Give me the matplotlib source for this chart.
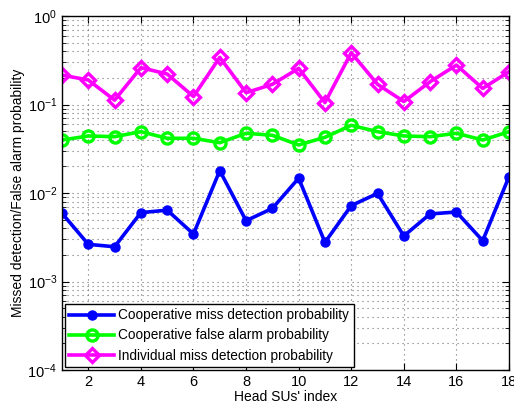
import matplotlib
matplotlib.use("Agg")
import matplotlib.pyplot as plt
from matplotlib.ticker import LogLocator, NullFormatter, FixedLocator

plt.rcParams['font.family'] = ['Liberation Sans', 'DejaVu Sans']

x = list(range(1, 19))
coop_miss = [0.0059, 0.00263, 0.00247, 0.0060, 0.0064, 0.00344, 0.0179, 0.00486, 0.0067,
             0.0147, 0.00277, 0.0072, 0.0099, 0.00327, 0.0058, 0.0061, 0.00289, 0.0153]
coop_fa = [0.0397, 0.0441, 0.0433, 0.0493, 0.0415, 0.0415, 0.0370, 0.0473, 0.0449,
           0.0349, 0.0426, 0.0582, 0.0493, 0.0441, 0.0433, 0.0473, 0.0397, 0.0493]
indiv_miss = [0.215, 0.189, 0.112, 0.261, 0.221, 0.123, 0.341, 0.136, 0.169,
              0.256, 0.105, 0.385, 0.169, 0.108, 0.181, 0.279, 0.152, 0.235]
labels = ["Cooperative miss detection probability",
          "Cooperative false alarm probability",
          "Individual miss detection probability"]
xticks = [2, 4, 6, 8, 10, 12, 14, 16, 18]

fig = plt.figure(figsize=(5.14, 4.04), dpi=100)
ax = fig.add_axes([62/514, 1 - 370/404, (509-62)/514, (370-16)/404])

ax.semilogy(x, coop_miss, color='#0000ff', lw=2.6, marker='o', ms=6.5,
            markerfacecolor='#0000ff', label=labels[0])
ax.semilogy(x, coop_fa, color='#00ff00', lw=2.6, marker='o', ms=8,
            markerfacecolor='none', markeredgewidth=2.4, label=labels[1])
ax.semilogy(x, indiv_miss, color='#ff00ff', lw=2.6, marker='D', ms=7,
            markerfacecolor='none', markeredgewidth=2.4, label=labels[2])

ax.set_xlim(1, 18)
ax.set_ylim(1e-4, 1e0)
ax.xaxis.set_major_locator(FixedLocator(xticks))
ax.yaxis.set_major_locator(LogLocator(base=10, numticks=10))
ax.yaxis.set_minor_locator(LogLocator(base=10, subs=range(2, 10), numticks=20))
ax.yaxis.set_minor_formatter(NullFormatter())

ax.grid(True, which='major', axis='both', color='#707070', linestyle=(0, (1, 3.5)), lw=0.8)
ax.grid(True, which='minor', axis='y', color='#707070', linestyle=(0, (1, 3.5)), lw=0.8)

ax.tick_params(which='both', direction='in', top=True, right=True, labelsize=10.5, colors='black')
ax.tick_params(which='major', length=5)
ax.tick_params(which='minor', length=3)
for s in ax.spines.values():
    s.set_linewidth(1.0)
    s.set_color('black')

ax.set_xlabel("Head SUs' index", fontsize=10, labelpad=1)
ax.set_ylabel("Missed detection/False alarm probability", fontsize=10, labelpad=2)

leg = ax.legend(loc='lower left', fontsize=9.8, frameon=True, fancybox=False,
                borderaxespad=0.2, handlelength=3.3, labelspacing=0.45, borderpad=0.35,
                handletextpad=0.3)
leg.get_frame().set_edgecolor('black')
leg.get_frame().set_linewidth(1.0)
leg.get_frame().set_alpha(1.0)

fig.savefig("out.png", dpi=100)
